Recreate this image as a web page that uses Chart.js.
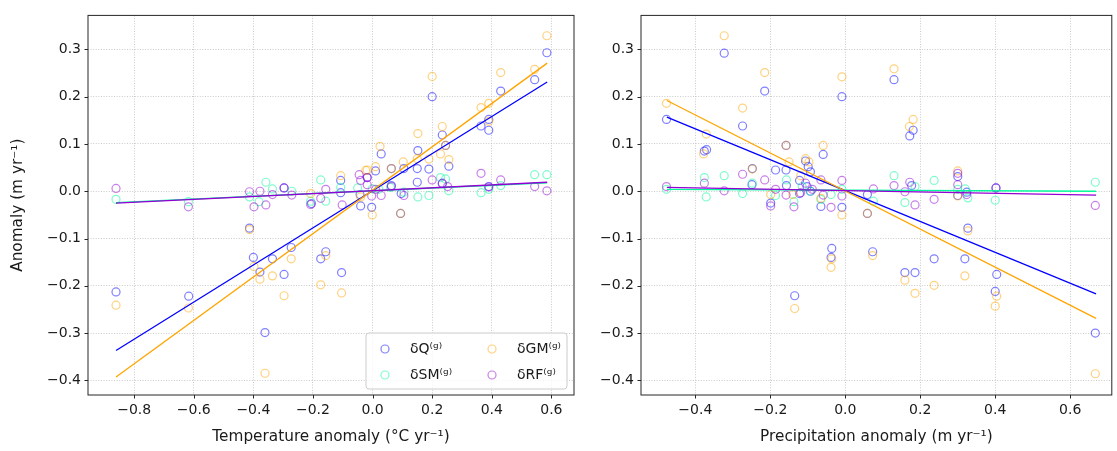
<!DOCTYPE html>
<html><head><meta charset="utf-8">
<script src="https://cdn.jsdelivr.net/npm/chart.js@4.4.0/dist/chart.umd.min.js"></script>
<style>
html,body{margin:0;padding:0;background:#fff;width:1117px;height:451px;overflow:hidden}
#c1{position:absolute;left:0;top:0}
#c2{position:absolute;left:580px;top:0}
</style></head><body>
<canvas id="c1" width="580" height="451"></canvas>
<canvas id="c2" width="537" height="451"></canvas>
<script>
// ---------- series ----------
const seriesNames = ['δQ⁽ᵍ⁾', 'δSM⁽ᵍ⁾', 'δGM⁽ᵍ⁾', 'δRF⁽ᵍ⁾'];

// ---------- tick labels ----------
const yTicks = [-0.4, -0.3, -0.2, -0.1, 0.0, 0.1, 0.2, 0.3];
const tempTicks = [-0.8, -0.6, -0.4, -0.2, 0.0, 0.2, 0.4, 0.6];
const precTicks = [-0.4, -0.2, 0.0, 0.2, 0.4, 0.6];

// ---------- left panel: temperature anomaly vs anomaly [x, y] ----------
const tempQ = [[-0.861,-0.213],[-0.617,-0.222],[-0.413,-0.078],[-0.400,-0.140],[-0.378,-0.171],[-0.336,-0.143],[-0.361,-0.299],[-0.297,-0.176],[-0.273,-0.119],[-0.174,-0.143],[-0.157,-0.128],[-0.104,-0.172],[-0.297,0.007],[-0.205,-0.026],[-0.107,0.023],[-0.107,-0.003],[-0.040,-0.031],[-0.003,-0.034],[0.010,0.043],[-0.018,0.029],[0.585,0.293],[0.544,0.236],[0.430,0.212],[0.200,0.200],[0.364,0.138],[0.390,0.129],[0.390,0.152],[0.234,0.119],[0.245,0.097],[0.152,0.086],[0.029,0.079],[0.063,0.048],[0.105,0.048],[0.150,0.048],[0.189,0.047],[0.256,0.053],[0.096,-0.005],[0.150,0.019],[0.234,0.017],[0.390,0.010],[0.094,-0.047],[0.063,0.012],[-0.042,-0.007]];
const tempSM = [[-0.861,-0.017],[-0.618,-0.022],[-0.413,-0.012],[-0.358,0.019],[-0.336,0.005],[-0.381,-0.022],[-0.271,0.000],[-0.208,-0.021],[-0.174,0.024],[-0.157,-0.021],[-0.107,0.008],[-0.050,0.007],[-0.001,0.005],[0.021,0.004],[0.060,0.008],[0.105,-0.002],[0.152,-0.012],[0.189,-0.009],[0.228,0.029],[0.245,0.026],[0.256,0.001],[0.364,-0.003],[0.390,0.004],[0.430,0.012],[0.544,0.035],[0.585,0.035]];
const tempGM = [[-0.861,-0.241],[-0.618,-0.247],[-0.413,-0.081],[-0.398,-0.159],[-0.378,-0.186],[-0.336,-0.179],[-0.361,-0.385],[-0.297,-0.221],[-0.273,-0.143],[-0.174,-0.198],[-0.157,-0.136],[-0.104,-0.215],[-0.107,0.033],[-0.018,0.045],[-0.001,-0.050],[-0.208,-0.005],[-0.040,-0.012],[0.025,0.095],[0.585,0.329],[0.544,0.258],[0.430,0.251],[0.200,0.243],[0.364,0.177],[0.390,0.186],[0.390,0.148],[0.234,0.137],[0.245,0.097],[0.228,0.079],[0.152,0.122],[0.063,0.048],[0.103,0.062],[0.150,0.069],[0.189,0.068],[0.256,0.067],[0.010,0.052],[-0.023,0.044],[0.094,-0.047]];
const tempRF = [[-0.861,0.006],[-0.618,-0.033],[-0.413,-0.001],[-0.398,-0.033],[-0.378,0.000],[-0.358,-0.029],[-0.336,-0.007],[-0.297,0.007],[-0.271,-0.008],[-0.208,-0.028],[-0.174,-0.015],[-0.157,0.004],[-0.102,-0.029],[-0.045,0.035],[-0.040,0.023],[-0.018,0.029],[-0.018,0.014],[-0.003,-0.010],[0.010,0.004],[0.029,-0.009],[0.063,0.010],[0.105,-0.009],[0.200,0.024],[0.234,0.016],[0.252,0.010],[0.364,0.038],[0.390,0.009],[0.430,0.024],[0.544,0.010],[0.585,0.001]];
// fitted trend lines (end points)
const tempFitX = [-0.861, 0.586];
const tempFitQ = [-0.337, 0.231];
const tempFitSM = [-0.024, 0.018];
const tempFitGM = [-0.393, 0.271];
const tempFitRF = [-0.025, 0.019];

// ---------- right panel: precipitation anomaly vs anomaly [x, y] ----------
const precQ = [[-0.477,0.152],[-0.376,0.085],[-0.370,0.088],[-0.323,0.292],[-0.274,0.138],[-0.248,0.048],[-0.249,0.014],[-0.215,0.212],[-0.186,0.045],[-0.199,-0.025],[-0.158,0.045],[-0.158,0.097],[-0.157,0.012],[-0.122,0.023],[-0.106,0.064],[-0.099,0.052],[-0.093,0.041],[-0.102,0.010],[-0.065,-0.032],[-0.059,0.078],[-0.009,0.200],[-0.009,-0.034],[-0.135,-0.221],[-0.036,-0.121],[-0.038,-0.140],[0.130,0.236],[0.172,0.117],[0.181,0.129],[0.177,0.012],[0.300,0.031],[0.300,-0.009],[0.324,-0.002],[0.402,0.007],[0.059,-0.007],[0.059,-0.047],[0.073,-0.128],[0.159,-0.172],[0.186,-0.172],[0.237,-0.143],[0.319,-0.143],[0.327,-0.078],[0.404,-0.176],[0.400,-0.212],[0.667,-0.300],[-0.122,-0.005],[-0.093,0.000]];
const precSM = [[-0.477,0.004],[-0.376,0.029],[-0.371,-0.012],[-0.323,0.033],[-0.274,-0.005],[-0.248,0.017],[-0.186,-0.009],[-0.157,0.024],[-0.137,-0.022],[-0.115,0.010],[-0.093,0.000],[-0.065,-0.017],[-0.038,-0.007],[-0.009,0.004],[0.075,-0.021],[0.130,0.033],[0.159,-0.024],[0.186,0.010],[0.237,0.023],[0.300,0.004],[0.320,0.005],[0.327,-0.014],[0.400,-0.019],[0.667,0.019]];
const precGM = [[-0.477,0.186],[-0.371,0.121],[-0.378,0.079],[-0.323,0.329],[-0.274,0.176],[-0.248,0.047],[-0.215,0.251],[-0.199,-0.007],[-0.158,0.097],[-0.150,0.062],[-0.106,0.069],[-0.097,0.062],[-0.119,0.033],[-0.059,0.097],[-0.065,-0.015],[-0.140,-0.007],[-0.009,0.242],[-0.009,-0.050],[-0.135,-0.248],[-0.036,-0.143],[-0.038,-0.161],[0.130,0.259],[0.181,0.152],[0.171,0.137],[0.300,0.043],[0.059,-0.047],[0.300,-0.010],[0.073,-0.136],[0.159,-0.188],[0.186,-0.216],[0.237,-0.199],[0.319,-0.179],[0.327,-0.084],[0.404,-0.222],[0.400,-0.243],[0.667,-0.386]];
const precRF = [[-0.477,0.010],[-0.376,0.017],[-0.323,0.001],[-0.274,0.036],[-0.215,0.024],[-0.199,-0.031],[-0.186,0.004],[-0.158,-0.008],[-0.137,-0.033],[-0.119,-0.003],[-0.106,0.017],[-0.088,0.004],[-0.065,0.024],[-0.059,-0.008],[-0.038,-0.034],[-0.009,0.023],[-0.009,-0.010],[0.075,0.005],[0.130,0.012],[0.159,-0.001],[0.172,0.019],[0.186,-0.029],[0.237,-0.017],[0.300,0.038],[0.300,0.014],[0.324,-0.007],[0.402,0.007],[0.667,-0.030]];
const precFitX = [-0.476, 0.669];
const precFitQ = [0.157, -0.217];
const precFitSM = [0.004, 0.000];
const precFitGM = [0.192, -0.269];
const precFitRF = [0.008, -0.008];

// ---------- styling ----------
const lineColors = ['#0000ff', '#00fa9a', '#ffa500', '#9400d3'];
const pointColors = ['rgba(0,0,255,0.5)', 'rgba(0,250,154,0.5)', 'rgba(255,165,0,0.5)', 'rgba(148,0,211,0.5)'];
const FONT = 'DejaVu Sans';
const TXT = '#1a1a1a';
const TICK_SIZE = 14, TITLE_SIZE = 15.3;

function fmt(v) {
  if (Math.abs(v) < 1e-9) return '0.0';
  return v.toFixed(1).replace('-', '\u2212');
}
function scatterDs(pts, i) {
  return { label: seriesNames[i], data: pts.map(p => ({ x: p[0], y: p[1] })),
    borderColor: pointColors[i], backgroundColor: 'rgba(0,0,0,0)', pointRadius: 4,
    pointHoverRadius: 4, pointBorderWidth: 1.2, showLine: false, order: 7 - i };
}
function lineDs(xs, ys, i) {
  return { label: seriesNames[i] + ' fit', data: xs.map((x, k) => ({ x: x, y: ys[k] })),
    borderColor: lineColors[i], backgroundColor: lineColors[i], borderWidth: 1.3,
    pointRadius: 0, showLine: true, fill: false, order: 3 - i };
}

const frameTicks = {
  id: 'frameTicks',
  afterDraw(chart) {
    const { ctx, chartArea: a } = chart;
    ctx.save();
    ctx.strokeStyle = '#262626';
    ctx.lineWidth = 1;
    ctx.strokeRect(a.left, a.top, a.right - a.left, a.bottom - a.top);
    const xs = chart.scales.x, ys = chart.scales.y;
    ctx.beginPath();
    xs.ticks.forEach(t => { const p = Math.round(xs.getPixelForValue(t.value)) + 0.5; ctx.moveTo(p, a.bottom); ctx.lineTo(p, a.bottom + 3.5); });
    ys.ticks.forEach(t => { const p = Math.round(ys.getPixelForValue(t.value)) + 0.5; ctx.moveTo(a.left, p); ctx.lineTo(a.left - 3.5, p); });
    ctx.stroke();
    ctx.restore();
  }
};

const insetLegend = {
  id: 'insetLegend',
  afterDraw(chart, args, opts) {
    if (!opts.show) return;
    const ctx = chart.ctx;
    const x0 = 366, y0 = 333, w = 201, h = 56, r = 3;
    ctx.save();
    ctx.beginPath();
    ctx.moveTo(x0 + r, y0); ctx.lineTo(x0 + w - r, y0); ctx.arcTo(x0 + w, y0, x0 + w, y0 + r, r);
    ctx.lineTo(x0 + w, y0 + h - r); ctx.arcTo(x0 + w, y0 + h, x0 + w - r, y0 + h, r);
    ctx.lineTo(x0 + r, y0 + h); ctx.arcTo(x0, y0 + h, x0, y0 + h - r, r);
    ctx.lineTo(x0, y0 + r); ctx.arcTo(x0, y0, x0 + r, y0, r);
    ctx.closePath();
    ctx.fillStyle = 'rgba(255,255,255,0.8)';
    ctx.fill();
    ctx.strokeStyle = '#cccccc';
    ctx.lineWidth = 1;
    ctx.stroke();
    // matplotlib ncol=2 fills column-wise: col1 = Q, SM ; col2 = GM, RF
    const pos = [[385, 349], [385, 375], [492, 349], [492, 375]];
    ctx.font = TICK_SIZE + 'px "' + FONT + '"';
    ctx.textBaseline = 'middle';
    for (let i = 0; i < 4; i++) {
      const [mx, my] = pos[i];
      ctx.beginPath();
      ctx.arc(mx, my, 4, 0, Math.PI * 2);
      ctx.strokeStyle = pointColors[i];
      ctx.lineWidth = 1.2;
      ctx.stroke();
      ctx.fillStyle = TXT;
      ctx.fillText(chart.data.datasets[i].label, mx + 25, my);
    }
    ctx.restore();
  }
};

function makeChart(id, cfg) {
  const datasets = [
    scatterDs(cfg.pts[0], 0), scatterDs(cfg.pts[1], 1), scatterDs(cfg.pts[2], 2), scatterDs(cfg.pts[3], 3),
    lineDs(cfg.fitX, cfg.fits[0], 0), lineDs(cfg.fitX, cfg.fits[1], 1), lineDs(cfg.fitX, cfg.fits[2], 2), lineDs(cfg.fitX, cfg.fits[3], 3)
  ];
  const grid = { color: '#bdbdbd', lineWidth: 0.8, drawTicks: false };
  const border = { display: false, dash: [1, 1.6] };
  return new Chart(document.getElementById(id), {
    type: 'scatter',
    data: { datasets },
    options: {
      responsive: false, animation: false, devicePixelRatio: 1,
      layout: { padding: { left: 0, top: 7, right: cfg.padRight, bottom: 0 } },
      plugins: { legend: { display: false }, tooltip: { enabled: false }, insetLegend: { show: cfg.legend } },
      scales: {
        x: {
          type: 'linear', min: cfg.xMin, max: cfg.xMax,
          afterBuildTicks: s => { s.ticks = cfg.xTicks.map(v => ({ value: v })); },
          afterFit: s => { s.height = 56; },
          ticks: { callback: v => fmt(v), font: { family: FONT, size: TICK_SIZE }, color: TXT, padding: 7, maxRotation: 0, autoSkip: false },
          grid, border,
          title: { display: true, text: cfg.xTitle, font: { family: FONT, size: TITLE_SIZE }, color: TXT, padding: { top: 0, bottom: 5 } }
        },
        y: {
          type: 'linear', min: -0.431, max: 0.372,
          afterBuildTicks: s => { s.ticks = yTicks.map(v => ({ value: v })); },
          afterFit: s => { s.width = cfg.yWidth; },
          ticks: { callback: v => fmt(v), font: { family: FONT, size: TICK_SIZE }, color: TXT, padding: 7, autoSkip: false },
          grid, border,
          title: { display: cfg.yTitle !== '', text: cfg.yTitle, font: { family: FONT, size: TITLE_SIZE }, color: TXT, padding: { top: 9, bottom: 0 } }
        }
      }
    },
    plugins: [frameTicks, insetLegend]
  });
}

makeChart('c1', {
  pts: [tempQ, tempSM, tempGM, tempRF],
  fitX: tempFitX, fits: [tempFitQ, tempFitSM, tempFitGM, tempFitRF],
  xMin: -0.955, xMax: 0.676, xTicks: tempTicks, padRight: 6, yWidth: 88,
  xTitle: 'Temperature anomaly (°C yr⁻¹)', yTitle: 'Anomaly (m yr⁻¹)', legend: true
});
makeChart('c2', {
  pts: [precQ, precSM, precGM, precRF],
  fitX: precFitX, fits: [precFitQ, precFitSM, precFitGM, precFitRF],
  xMin: -0.545, xMax: 0.711, xTicks: precTicks, padRight: 3, yWidth: 61,
  xTitle: 'Precipitation anomaly (m yr⁻¹)', yTitle: '', legend: false
});
</script>
</body></html>
